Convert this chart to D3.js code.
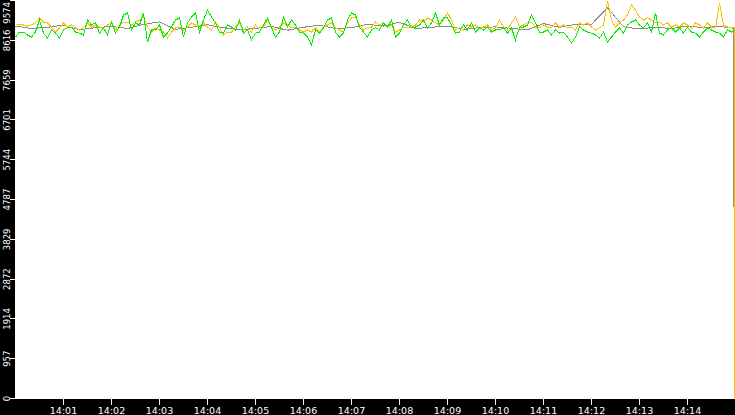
<!DOCTYPE html>
<html><head><meta charset="utf-8">
<script src="https://cdn.jsdelivr.net/npm/d3@7/dist/d3.min.js"></script>
<style>html,body{margin:0;padding:0;background:#000;overflow:hidden}svg{display:block}</style>
</head><body>
<script>
// ---- data ----
const startTime = "2000-01-01T14:00:00";
const endTime = "2000-01-01T14:15:00";
const stepSeconds = 5;        // orange / green sample interval
const grayStepSeconds = 20;   // gray sample interval
const yMax = 9574;
const yTickValues = [0, 957, 1914, 2872, 3829, 4787, 5744, 6701, 7659, 8616, 9574];
const xTickLabels = ["14:01","14:02","14:03","14:04","14:05","14:06","14:07","14:08","14:09","14:10","14:11","14:12","14:13","14:14"];

const orangeValues = [
9010,8985,8985,8960,8985,9035,9155,9055,9035,8935,8815,8915,9035,8935,8985,8915,8865,8915,9035,8935,8985,8935,8915,8985,9035,8865,8985,9035,9055,8985,9055,9105,9175,8935,8815,8915,8865,8815,8670,8815,8915,8935,8865,8935,9035,
8985,8915,9035,8935,8865,9055,8935,8745,8815,8815,8935,9035,8865,8935,8815,8985,8915,8935,9105,8915,8865,8935,9035,8985,8915,8935,8865,8815,8865,8815,8915,8815,8935,8985,9035,8915,8865,8815,9035,9155,9175,8985,8865,8915,8935,
9055,8985,9035,8935,8985,8815,8865,8935,8915,8935,8985,9105,9055,9155,9105,9035,8985,9105,9275,9105,8865,8915,8865,8985,8935,8985,8915,8935,8985,8865,8915,9105,8935,8865,9035,9175,8935,8985,9035,9055,8935,8915,8985,8935,8915,
9035,8935,8985,8915,8935,8865,9035,8985,9035,8935,8865,8915,8985,9560,9105,8935,9035,9105,9225,9465,9345,9175,9105,9155,9105,9035,9055,8985,9035,8935,8985,8935,9035,8985,8915,9035,8985,8915,9035,8935,8915,9515,8985,8935,8915];
const orangeTailSeconds = [898.8, 899.2];
const orangeTailValues = [8915, 0];

const greenValues = [
8695,8815,8815,8745,8695,8815,9105,8790,8670,8865,8790,8670,8865,8915,8935,8815,8790,8745,9105,8985,9035,8790,8915,8745,9055,8790,8935,9225,9275,8865,9035,8985,9275,8575,8865,8865,8985,8695,8790,8935,9105,9155,8695,9035,9175,
9275,8815,9105,9345,9175,9035,8815,8790,8985,8935,8865,9105,8790,8865,8625,8790,8815,8985,9155,8915,8695,8815,9175,8935,9105,8985,8815,8790,8695,8505,8865,8790,8915,9105,9155,8815,8695,8790,9105,9275,9225,8935,8815,8695,8865,
8915,8865,9035,8935,9105,8695,8790,8985,9105,8915,8935,8985,9105,8915,9035,9275,8985,9155,9155,8985,8790,8815,8985,8865,9035,8815,8915,8865,8935,8815,8865,8865,8915,8790,8915,8625,8915,8935,8985,9225,9035,8815,8815,8865,8745,
8865,8790,8815,8695,8550,8695,8935,8865,8815,8790,8745,8670,8815,8575,8695,8815,8915,8790,8985,9055,9105,8985,8915,9035,8815,9275,8790,8745,8865,8915,8815,8915,8790,8935,8815,8790,8695,8815,8915,8865,8815,8790,8695,8865,8815];
const greenTailSeconds = [899];
const greenTailValues = [8865];

const grayValues = [
8960,8900,8930,8980,8870,8920,8950,8900,9000,9060,8880,8930,8990,8920,8870,8900,8950,8860,8930,8980,8900,8920,9000,8960,9050,8900,8930,8960,8880,8920,8940,8900,8870,9020,8930,9000,9000,9400,8940,8890,8930,8900,8960,8920,8950,8900];
const grayTailSeconds = [897.4, 897.8];
const grayTailValues = [8880, 4600];

// ---- layout ----
const W = 735, H = 415;
const plotLeft = 15, plotBottom = 399;

const t0 = new Date(startTime), t1 = new Date(endTime);
const x = d3.scaleTime().domain([t0, t1]).range([plotLeft + 0.5, W + 0.5]);
const y = d3.scaleLinear().domain([0, yMax]).range([398.5, 0.5]);

function series(vals, step, tailSecs, tailVals) {
  const pts = vals.map((v, i) => ({ t: new Date(t0.getTime() + i * step * 1000), v }));
  tailSecs.forEach((s, i) => pts.push({ t: new Date(t0.getTime() + s * 1000), v: tailVals[i] }));
  return pts;
}
const orange = series(orangeValues, stepSeconds, orangeTailSeconds, orangeTailValues);
const green = series(greenValues, stepSeconds, greenTailSeconds, greenTailValues);
const gray = series(grayValues, grayStepSeconds, grayTailSeconds, grayTailValues);

const svg = d3.select("body").append("svg").attr("width", W).attr("height", H);
svg.append("rect").attr("width", W).attr("height", H).attr("fill", "#000");
svg.append("rect").attr("x", plotLeft).attr("y", 0).attr("width", W - plotLeft).attr("height", plotBottom).attr("fill", "#fff");

const line = d3.line().x(d => x(d.t)).y(d => y(d.v));
const lines = svg.append("g").attr("shape-rendering", "crispEdges");
lines.append("path").datum(gray).attr("d", line).attr("fill", "none").attr("stroke", "#8c8c8c").attr("stroke-width", 1);
lines.append("path").datum(orange).attr("d", line).attr("fill", "none").attr("stroke", "#ffc000").attr("stroke-width", 1);
lines.append("path").datum(green).attr("d", line).attr("fill", "none").attr("stroke", "#00f000").attr("stroke-width", 1);

// y axis
const yg = svg.append("g");
yTickValues.forEach((v, i) => {
  const yy = Math.round(y(v) - 0.5) + 0.5;
  yg.append("line").attr("x1", 10).attr("x2", 15).attr("y1", yy).attr("y2", yy)
    .attr("stroke", "#fff").attr("stroke-width", 1).attr("shape-rendering", "crispEdges");
  const isTop = i === yTickValues.length - 1;
  yg.append("text")
    .attr("transform", `translate(9.5,${isTop ? 2 : y(v)}) rotate(-90)`)
    .attr("text-anchor", isTop ? "end" : "middle")
    .attr("fill", "#fff").attr("font-family", "'DejaVu Sans Condensed', 'DejaVu Sans', sans-serif")
    .attr("font-size", "9.5px")
    .text(String(v));
});

// x axis
const xg = svg.append("g");
xTickLabels.forEach(lbl => {
  const [hh, mm] = lbl.split(":").map(Number);
  const t = new Date(t0); t.setHours(hh, mm, 0, 0);
  const xx = Math.round(x(t) - 0.5) + 0.5;
  xg.append("line").attr("x1", xx).attr("x2", xx).attr("y1", 399).attr("y2", 405)
    .attr("stroke", "#fff").attr("stroke-width", 1).attr("shape-rendering", "crispEdges");
  xg.append("text").attr("x", x(t)).attr("y", 414).attr("text-anchor", "middle")
    .attr("fill", "#fff").attr("font-family", "'DejaVu Sans', Verdana, sans-serif")
    .attr("font-size", "9.5px")
    .text(lbl);
});
</script>
</body></html>
